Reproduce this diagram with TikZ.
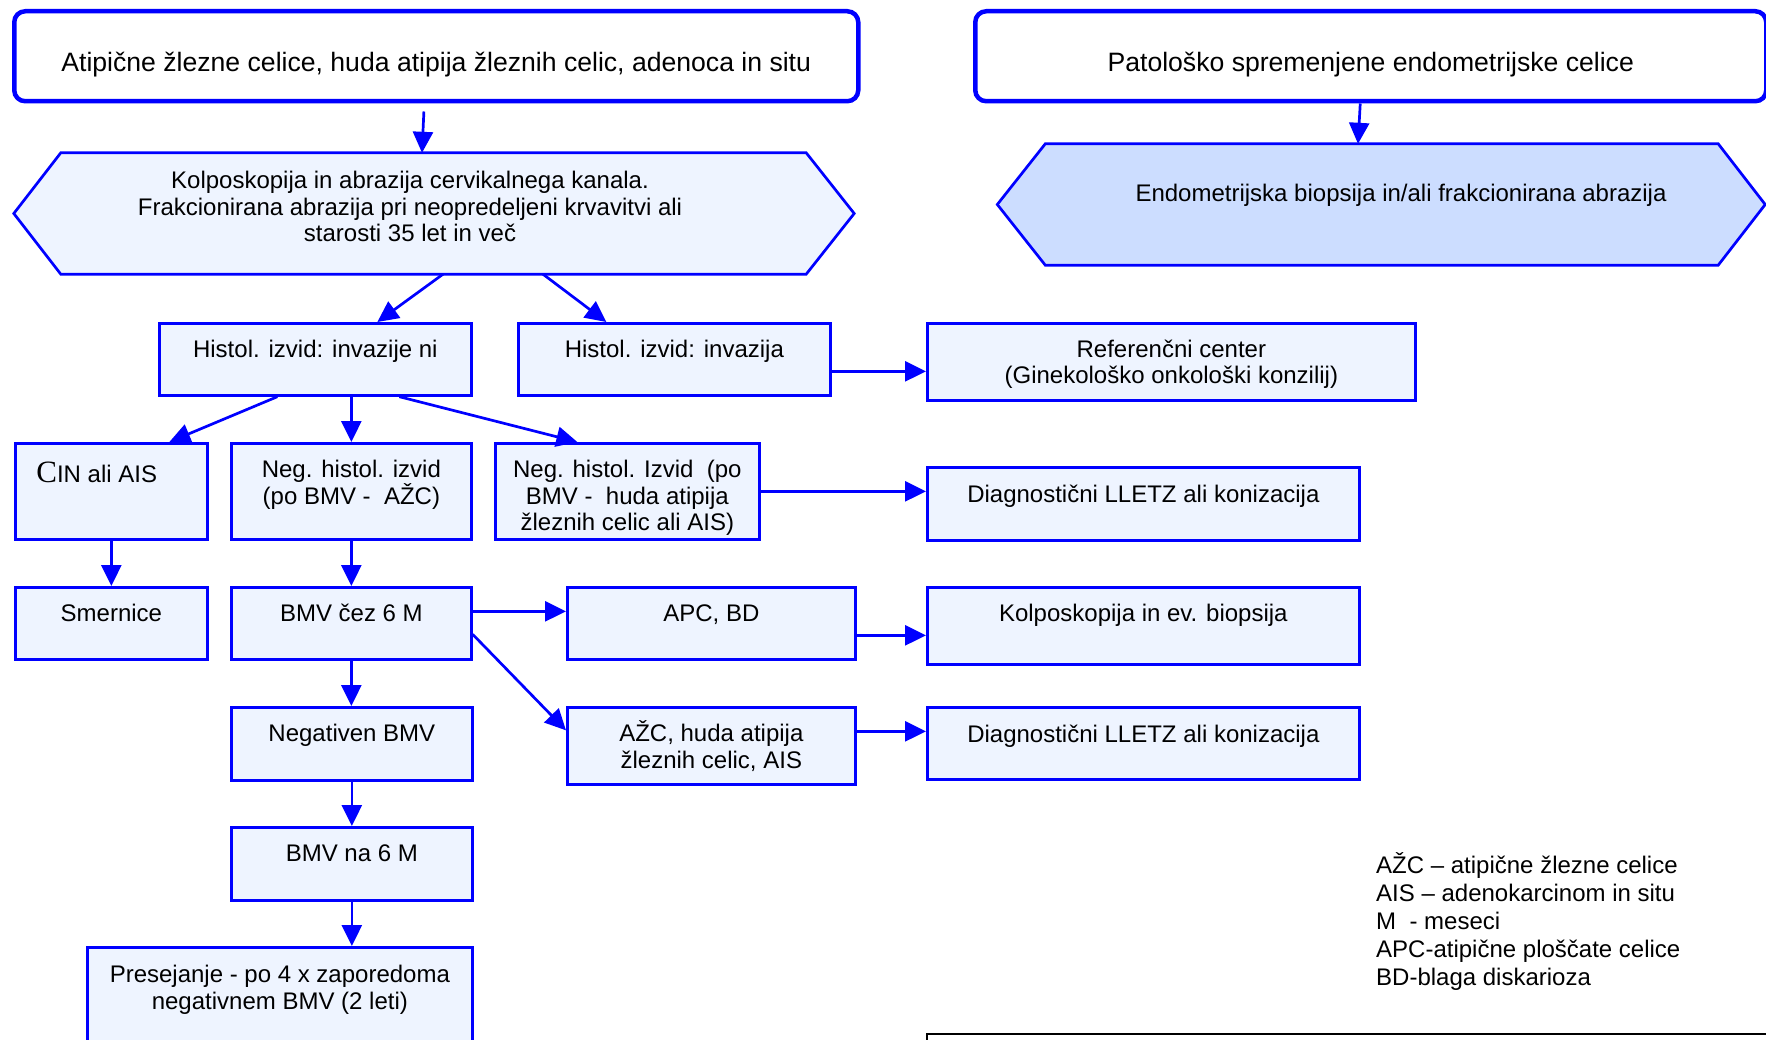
\documentclass[tikz,border=0pt]{standalone}
\usepackage{fontspec}
\setmainfont{Liberation Sans}
\newfontfamily\serifc{Liberation Serif}
\usetikzlibrary{arrows.meta}
\definecolor{flowblue}{RGB}{0,0,255}
\definecolor{boxfill}{RGB}{238,244,255}
\definecolor{hexfill}{RGB}{204,221,255}
% box text: width, height, baseline of first line below top, text
\newcommand\bxt[4]{\parbox[c][#2pt][t]{#1pt}{\centering\rule{0pt}{#3pt}#4\par}}
\begin{document}
\begin{tikzpicture}[x=1pt,y=-1pt,
  font=\fontsize{24}{26.5}\selectfont,
  box/.style={draw=flowblue, line width=2.7pt, fill=boxfill, inner sep=0pt, anchor=north west},
  topbox/.style={draw=flowblue, line width=4.5pt, fill=white, rounded corners=11pt, inner sep=0pt, anchor=north west, font=\fontsize{26.6}{29}\selectfont},
  arr/.style={draw=flowblue, line width=2.7pt, -{Triangle[width=20pt,length=21pt]}},
  hexa/.style={draw=flowblue, line width=2.7pt}]
\useasboundingbox (0,0) rectangle (1766,1040);

% header boxes
\node[topbox] (top1) at (12,9) {\bxt{844}{90}{60.5}{Atipične žlezne celice, huda atipija žleznih celic, adenoca in situ}};
\node[topbox] (top2) at (973,9) {\bxt{791}{90}{60.5}{Patološko spremenjene endometrijske celice}};

% hexagonal procedure boxes
\node[inner sep=0pt, minimum width=840pt, minimum height=121pt] (hex1) at (434,213.5) {};
\filldraw[hexa, fill=boxfill] (hex1.west) -- ([xshift=47pt]hex1.north west) -- ([xshift=-48pt]hex1.north east)
  -- (hex1.east) -- ([xshift=-48pt]hex1.south east) -- ([xshift=47pt]hex1.south west) -- cycle;
\node[inner sep=0pt, anchor=north] (hex1t) at (410,153) {\bxt{700}{121}{35.5}{Kolposkopija in abrazija cervikalnega kanala.\\Frakcionirana abrazija pri neopredeljeni krvavitvi ali\\starosti 35 let in več}};

\node[inner sep=0pt, minimum width=767.5pt, minimum height=121pt] (hex2) at (1381.25,204.5) {};
\filldraw[hexa, fill=hexfill] (hex2.west) -- ([xshift=48pt]hex2.north west) -- ([xshift=-47pt]hex2.north east)
  -- (hex2.east) -- ([xshift=-47pt]hex2.south east) -- ([xshift=48pt]hex2.south west) -- cycle;
\node[inner sep=0pt, anchor=north] (hex2t) at (1401,144) {\bxt{700}{121}{57.5}{Endometrijska biopsija in/ali frakcionirana abrazija}};

% flow boxes
\node[box] (hist1) at (158,322) {\bxt{312}{72}{34}{Histol. izvid: invazije ni}};
\node[box] (hist2) at (517,322) {\bxt{312}{72}{34}{Histol. izvid: invazija}};
\node[box] (ref) at (926,322) {\bxt{488}{77}{34}{Referenčni center\\(Ginekološko onkološki konzilij)}};
\node[box] (cin) at (14,442) {\parbox[c][96pt][t]{192pt}{\raggedright\rule{0pt}{39.5pt}\hspace*{21pt}{\serifc\fontsize{31}{31}\selectfont C}IN ali AIS\par}};
\node[box] (neg) at (230,442) {\bxt{240}{96}{34.5}{Neg. histol. izvid\\(po BMV -\ \ AŽC)}};
\node[box] (neg2) at (494,442) {\bxt{264}{96}{34.5}{Neg. histol. Izvid\ \ (po\\BMV -\ \ huda atipija\\žleznih celic ali AIS)}};
\node[box] (diag1) at (926,466) {\bxt{432}{73}{35.5}{Diagnostični LLETZ ali konizacija}};
\node[box] (smer) at (14,586) {\bxt{192}{72}{34.5}{Smernice}};
\node[box] (bmv) at (230,586) {\bxt{240}{72}{34.5}{BMV čez 6 M}};
\node[box] (apc) at (566,586) {\bxt{288}{72}{34.5}{APC, BD}};
\node[box] (kolp) at (926,586) {\bxt{432}{77}{34.5}{Kolposkopija in ev. biopsija}};
\node[box] (negbmv) at (230,706) {\bxt{241}{73}{34.5}{Negativen BMV}};
\node[box] (azc) at (566,706) {\bxt{288}{77}{34.5}{AŽC, huda atipija\\žleznih celic, AIS}};
\node[box] (diag2) at (926,706) {\bxt{432}{72}{35.5}{Diagnostični LLETZ ali konizacija}};
\node[box] (bmv6) at (230,826) {\bxt{241}{73}{34.5}{BMV na 6 M}};
\node[box] (pres) at (86,946) {\bxt{385}{110}{35.5}{Presejanje - po 4 x zaporedoma\\negativnem BMV (2 leti)}};

% legend and blank note frame
\node[anchor=north west, inner sep=0pt] (legend) at (1376,850) {\parbox[t]{390pt}{\raggedright\fontsize{24}{28}\selectfont\rule{0pt}{23.5pt}AŽC – atipične žlezne celice\\AIS – adenokarcinom in situ\\M\ \ - meseci\\APC-atipične ploščate celice\\BD-blaga diskarioza\par}};
\node[draw=black, line width=2pt, fill=white, inner sep=0pt, anchor=north west, minimum width=900pt, minimum height=60pt] (note) at (926,1033) {};

% connectors
\draw[arr, shorten <=8pt] ([xshift=-12pt]top1.south) -- ([xshift=-12pt]hex1.north);
\draw[arr] ([xshift=-10.5pt]top2.south) -- ([xshift=-23.25pt]hex2.north);
\draw[arr] ([xshift=9pt]hex1.south) -- ([xshift=62pt]hist1.north);
\draw[arr] ([xshift=109pt]hex1.south) -- ([xshift=-68pt]hist2.north);
\draw[arr] ([xshift=-38pt]hist1.south) -- ([xshift=58pt]cin.north);
\draw[arr] ([xshift=36pt]hist1.south) -- (neg.north);
\draw[arr] ([xshift=84pt]hist1.south) -- ([xshift=-50pt]neg2.north);
\draw[arr] ([yshift=-12pt]hist2.east) -- ([yshift=-9.5pt]ref.west);
\draw[arr] (neg2.east) -- ([yshift=12.5pt]diag1.west);
\draw[arr] (cin.south) -- (smer.north);
\draw[arr] (neg.south) -- (bmv.north);
\draw[arr] ([yshift=12pt]bmv.east) -- ([yshift=12pt]apc.west);
\draw[arr] ([yshift=-12pt]apc.east) -- ([yshift=-9.5pt]kolp.west);
\draw[arr] ([yshift=-11pt]bmv.east) -- ([yshift=15.5pt]azc.west);
\draw[arr] ([yshift=14.5pt]azc.east) -- ([yshift=12pt]diag2.west);
\draw[arr] (bmv.south) -- (bmv.south |- negbmv.north);
\draw[arr] (negbmv.south) -- (negbmv.south |- bmv6.north);
\draw[arr] (bmv6.south) -- (bmv6.south |- pres.north);
\end{tikzpicture}
\end{document}
